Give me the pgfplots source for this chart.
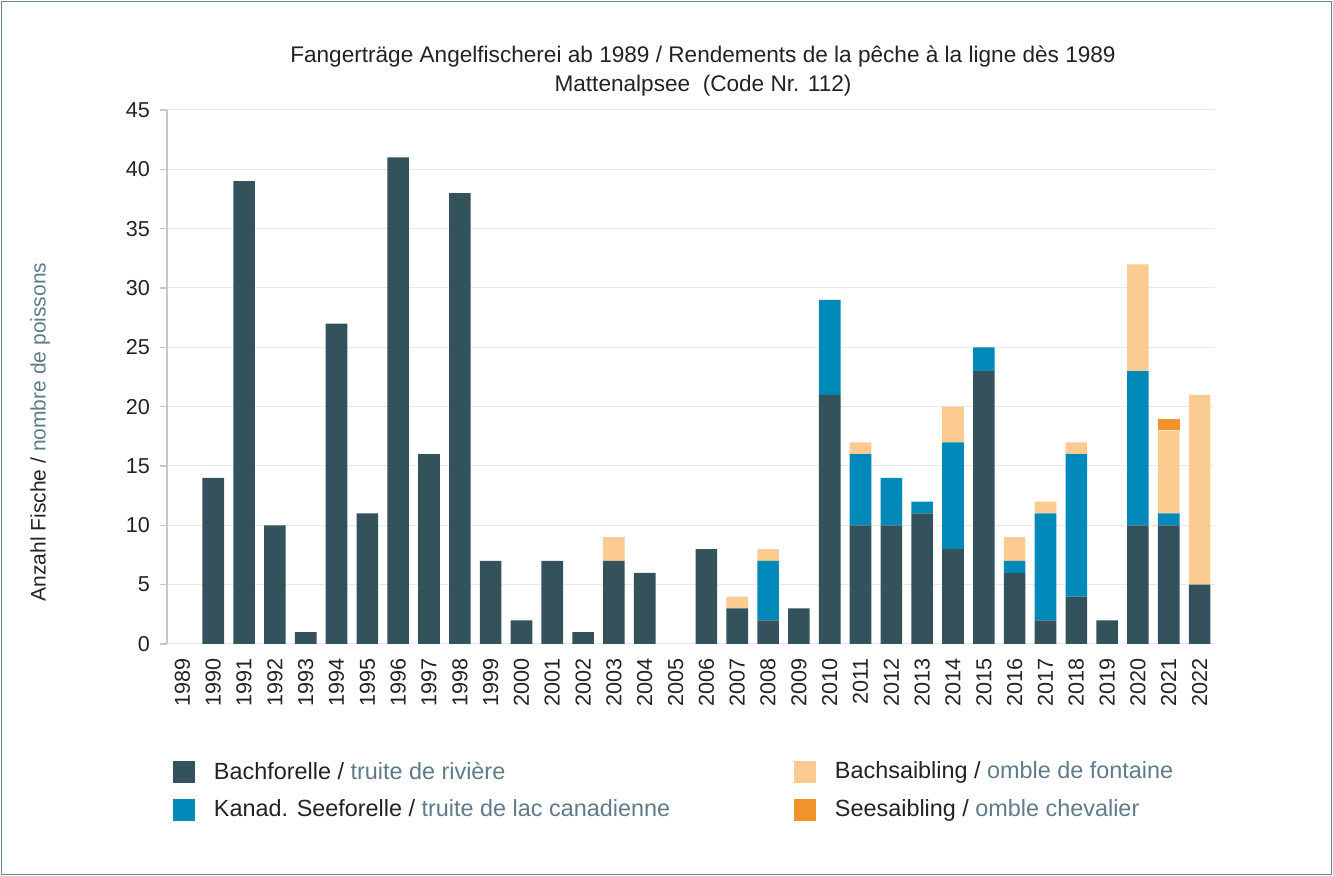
\documentclass[border=0pt]{standalone}
\usepackage{fontspec}
\setmainfont{Liberation Sans}
\usepackage{pgfplots}
\pgfplotsset{compat=1.18}
\usepackage{pgfplotstable}

\definecolor{bf}{HTML}{34525C}
\definecolor{ksf}{HTML}{0089B9}
\definecolor{bs}{HTML}{FCCB91}
\definecolor{ss}{HTML}{F2922A}
\definecolor{fr}{HTML}{5F7A88}
\definecolor{txt}{HTML}{222222}
\definecolor{framec}{HTML}{6A8696}

% i = year - 1989
\pgfplotstableread{
i  bf  ksf bs  ss
0  0   0   0   0
1  14  0   0   0
2  39  0   0   0
3  10  0   0   0
4  1   0   0   0
5  27  0   0   0
6  11  0   0   0
7  41  0   0   0
8  16  0   0   0
9  38  0   0   0
10 7   0   0   0
11 2   0   0   0
12 7   0   0   0
13 1   0   0   0
14 7   0   2   0
15 6   0   0   0
16 0   0   0   0
17 8   0   0   0
18 3   0   1   0
19 2   5   1   0
20 3   0   0   0
21 21  8   0   0
22 10  6   1   0
23 10  4   0   0
24 11  1   0   0
25 8   9   3   0
26 23  2   0   0
27 6   1   2   0
28 2   9   1   0
29 4   12  1   0
30 2   0   0   0
31 10  13  9   0
32 10  1   7   1
33 5   0   16  0
}\data

\begin{document}
\begin{tikzpicture}[x=0.5pt,y=0.5pt]
\path[use as bounding box] (0,0) rectangle (1333,876);
\draw[framec, line width=0.6pt] (1.5,1.5) rectangle (1331.5,874.5);
\node[font=\fontsize{11.3}{13}\selectfont, text=txt] at (703,876-57) {Fangerträge Angelfischerei ab 1989 / Rendements de la pêche à la ligne dès 1989};
\node[font=\fontsize{11.3}{13}\selectfont, text=txt] at (703,876-86) {Mattenalpsee\ \ (Code Nr. 112)};
\begin{axis}[
  at={(83.5pt,116pt)}, anchor=south west,
  scale only axis, width=524pt, height=267pt,
  ybar stacked, bar width=10.8pt,
  xmin=-0.5, xmax=33.5, ymin=0, ymax=45,
  xtick={0,...,33},
  xticklabels={1989,1990,1991,1992,1993,1994,1995,1996,1997,1998,1999,2000,2001,2002,2003,2004,2005,2006,2007,2008,2009,2010,2011,2012,2013,2014,2015,2016,2017,2018,2019,2020,2021,2022},
  ytick={0,5,...,45},
  axis y line*=left, axis x line*=bottom,
  x axis line style={draw=black!9, line width=0.5pt},
  y axis line style={draw=black!22, line width=0.6pt},
  ymajorgrids, major grid style={draw=black!9, line width=0.5pt},
  xtick style={draw=none},
  ytick style={draw=black!22, line width=0.6pt},
  tick align=outside, major tick length=3.5pt,
  /pgf/number format/assume math mode=true,
  ticklabel style={font=\fontsize{10.8}{12}\selectfont, text=txt},
  yticklabel style={xshift=-1.5pt},
  xticklabel style={rotate=90, anchor=east, xshift=0pt},
  ylabel={Anzahl Fische / \textcolor{fr}{nombre de poissons}},
  ylabel style={at={(axis description cs:-0.121,0.397)}, anchor=center, font=\fontsize{10.5}{12}\selectfont, text=txt},
  legend columns=2, transpose legend,
  legend image code/.code={\fill[#1] (0pt,-5.5pt) rectangle (11pt,5.5pt);},
  legend style={at={(axis description cs:0.0057,-0.219)}, anchor=north west, draw=none, fill=none,
    inner sep=0pt, outer sep=0pt, row sep=8pt,
    nodes={inner sep=0pt, font=\fontsize{11.7}{13}\selectfont, text=txt, anchor=west},
    /tikz/every odd column/.append style={column sep=9.5pt},
    /tikz/every even column/.append style={column sep=0pt}},
  legend cell align=left,
]
\addplot[fill=bf, draw=none] table[x=i, y=bf] {\data};
\addlegendentry{\makebox[290pt][l]{Bachforelle / \textcolor{fr}{truite de rivière}}}
\addplot[fill=ksf, draw=none] table[x=i, y=ksf] {\data};
\addlegendentry{\makebox[290pt][l]{Kanad. Seeforelle / \textcolor{fr}{truite de lac canadienne}}}
\addplot[fill=bs, draw=none] table[x=i, y=bs] {\data};
\addlegendentry{Bachsaibling / \textcolor{fr}{omble de fontaine}}
\addplot[fill=ss, draw=none] table[x=i, y=ss] {\data};
\addlegendentry{Seesaibling / \textcolor{fr}{omble chevalier}}
\end{axis}
\end{tikzpicture}
\end{document}
